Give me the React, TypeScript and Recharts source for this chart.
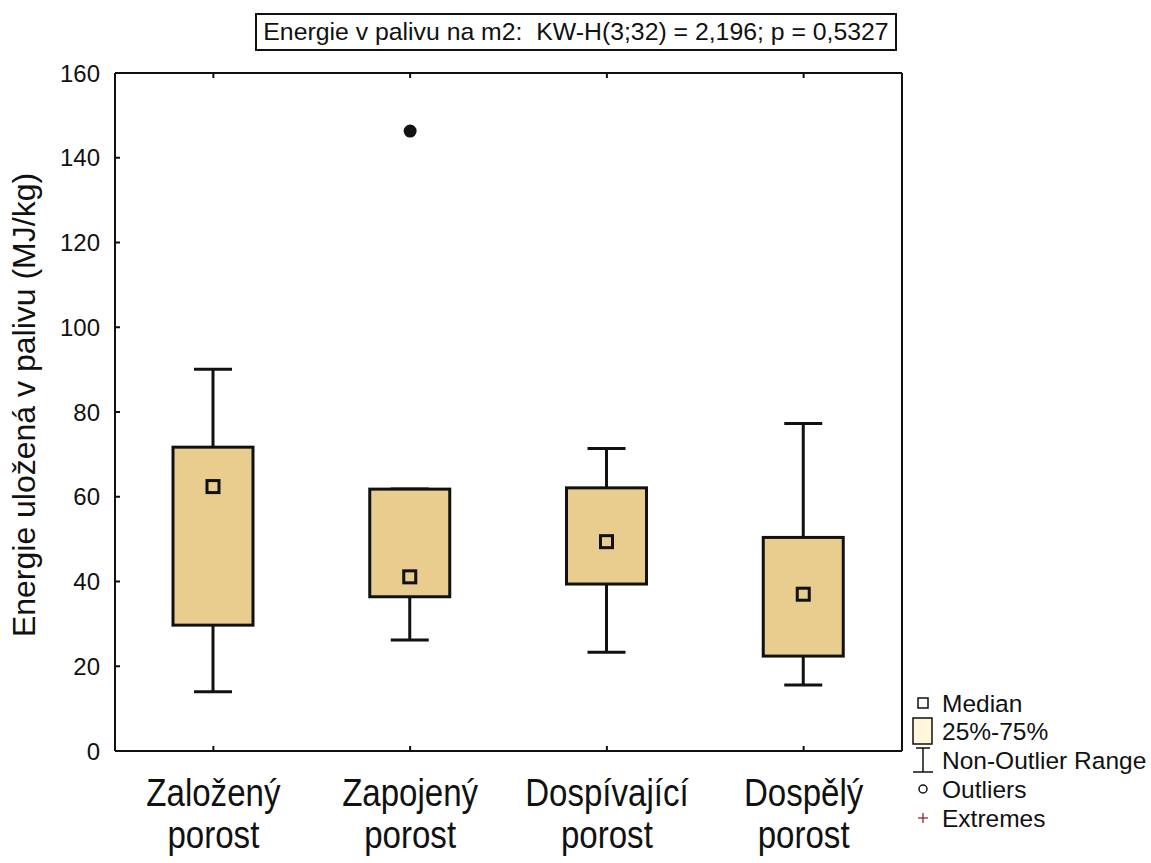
import {
  ComposedChart,
  Bar,
  Scatter,
  XAxis,
  YAxis,
} from "recharts";

const categories = ["Založený porost", "Zapojený porost", "Dospívající porost", "Dospělý porost"];
const whiskerLow = [14.0, 26.2, 23.3, 15.6];
const q1 = [29.7, 36.4, 39.4, 22.4];
const median = [62.4, 41.1, 49.4, 37.0];
const q3 = [71.7, 61.8, 62.1, 50.4];
const whiskerHigh = [90.1, 61.8, 71.4, 77.3];
const outliers: (number | null)[] = [null, 146.3, null, null];
const yTicks = [0, 20, 40, 60, 80, 100, 120, 140, 160];

const data = categories.map((name, i) => ({
  name,
  range: [whiskerLow[i], whiskerHigh[i]],
  q1: q1[i],
  median: median[i],
  q3: q3[i],
  outlier: outliers[i],
}));

const FONT = '"Liberation Sans", Arial, sans-serif';
const INK = "#111";
const BOX_FILL = "#e8cd8e";

function BoxShape(props: any) {
  const { x, y, width, height, payload } = props;
  const [lo, hi] = payload.range;
  const px = (v: number) => y + ((hi - v) / (hi - lo)) * height;
  const cx = x + width / 2;
  const cap = 19;
  const yq1 = px(payload.q1);
  const yq3 = px(payload.q3);
  const ym = px(payload.median);
  return (
    <g>
      <line x1={cx} x2={cx} y1={px(hi)} y2={yq3} stroke={INK} strokeWidth={3} />
      <line x1={cx} x2={cx} y1={yq1} y2={px(lo)} stroke={INK} strokeWidth={3} />
      <line x1={cx - cap} x2={cx + cap} y1={px(hi)} y2={px(hi)} stroke={INK} strokeWidth={3} />
      <line x1={cx - cap} x2={cx + cap} y1={px(lo)} y2={px(lo)} stroke={INK} strokeWidth={3} />
      <rect x={x} y={yq3} width={width} height={yq1 - yq3} fill={BOX_FILL} stroke={INK} strokeWidth={3} />
      <rect x={cx - 6} y={ym - 6} width={12} height={12} fill={BOX_FILL} stroke={INK} strokeWidth={3} />
    </g>
  );
}

function OutlierDot(props: any) {
  const { cx, cy, payload } = props;
  if (payload == null || payload.outlier == null || cy == null || isNaN(cy)) return null;
  return <circle cx={cx} cy={cy} r={6.5} fill={INK} />;
}

function LeftTick(props: any) {
  const { x, y, payload } = props;
  return (
    <g>
      <line x1={x} x2={x + 5} y1={y} y2={y} stroke={INK} strokeWidth={2} />
      <text x={x - 15} y={y} dy="0.36em" textAnchor="end" fontSize={24} fontFamily={FONT} fill={INK}>
        {payload.value}
      </text>
    </g>
  );
}

function RightTick(props: any) {
  const { x, y } = props;
  return <line x1={x} x2={x - 4} y1={y} y2={y} stroke={INK} strokeWidth={2} />;
}

function TopTick(props: any) {
  const { x, y } = props;
  return <line x1={x} x2={x} y1={y} y2={y + 5} stroke={INK} strokeWidth={2} />;
}

// category names are a bit condensed in the original, so squeeze them horizontally
function BottomTick(props: any) {
  const { x, y, payload } = props;
  const [first, ...rest] = String(payload.value).split(" ");
  return (
    <g>
      <line x1={x} x2={x} y1={y} y2={y - 5} stroke={INK} strokeWidth={2} />
      <g transform={`translate(${x}, ${y}) scale(0.87, 1)`}>
        <text textAnchor="middle" fontSize={38} fontFamily={FONT} fill={INK}>
          <tspan x={0} y={55}>{first}</tspan>
          <tspan x={0} y={97}>{rest.join(" ")}</tspan>
        </text>
      </g>
    </g>
  );
}

function YLabel() {
  return (
    <text
      transform="translate(35, 405) rotate(-90)"
      textAnchor="middle"
      fontSize={32}
      fontFamily={FONT}
      fill={INK}
    >
      Energie uložená v palivu (MJ/kg)
    </text>
  );
}

const legendRows = ["Median", "25%-75%", "Non-Outlier Range", "Outliers", "Extremes"];

function LegendBlock() {
  const rowY = [703, 731, 760, 789, 818];
  return (
    <svg width={246} height={160} style={{ position: "absolute", left: 905, top: 685 }}>
      <g transform="translate(-905, -685)" fontFamily={FONT} fontSize={24.5} fill={INK}>
        <rect x={918} y={rowY[0] - 5} width={10} height={10} fill="none" stroke={INK} strokeWidth={1.5} />
        <rect x={913} y={rowY[1] - 13} width={19} height={26} fill="#fff6dc" stroke={INK} strokeWidth={1.5} />
        <line x1={923} x2={923} y1={rowY[2] - 12} y2={rowY[2] + 12} stroke={INK} strokeWidth={1.5} />
        <line x1={916} x2={930} y1={rowY[2] - 12} y2={rowY[2] - 12} stroke={INK} strokeWidth={1.5} />
        <line x1={913} x2={933} y1={rowY[2] + 12} y2={rowY[2] + 12} stroke={INK} strokeWidth={1.5} />
        <circle cx={923} cy={rowY[3]} r={4} fill="none" stroke={INK} strokeWidth={1.5} />
        <g stroke="#7a1f2b" strokeWidth={1.2}>
          <line x1={918} x2={928} y1={rowY[4]} y2={rowY[4]} />
          <line x1={923} x2={923} y1={rowY[4] - 5} y2={rowY[4] + 5} />
        </g>
        {legendRows.map((label, i) => (
          <text key={label} x={942} y={rowY[i]} dy="0.36em">
            {label}
          </text>
        ))}
      </g>
    </svg>
  );
}

export default function App() {
  return (
    <div
      style={{
        position: "absolute",
        left: 0,
        top: 0,
        width: 1151,
        height: 863,
        background: "#fff",
        fontFamily: FONT,
      }}
    >
      <div
        style={{
          position: "absolute",
          left: 255,
          top: 13,
          width: 638,
          height: 34,
          border: `2px solid ${INK}`,
          fontSize: 24.8,
          lineHeight: "34px",
          textAlign: "center",
          color: INK,
          whiteSpace: "nowrap",
        }}
      >
        Energie v palivu na m2:&nbsp; KW-H(3;32) = 2,196; p = 0,5327
      </div>
      <ComposedChart
        width={1151}
        height={863}
        data={data}
        margin={{ top: 72, right: 248, bottom: 111, left: 114 }}
      >
        <XAxis
          dataKey="name"
          height={1}
          tickSize={0}
          tickMargin={0}
          tickLine={false}
          axisLine={{ stroke: INK, strokeWidth: 2 }}
          tick={<BottomTick />}
          interval={0}
        />
        <XAxis
          xAxisId="top"
          orientation="top"
          dataKey="name"
          height={1}
          tickSize={0}
          tickMargin={0}
          tickLine={false}
          axisLine={{ stroke: INK, strokeWidth: 2 }}
          tick={<TopTick />}
          interval={0}
        />
        <YAxis
          type="number"
          domain={[0, 160]}
          ticks={yTicks}
          width={1}
          tickSize={0}
          tickMargin={0}
          tickLine={false}
          axisLine={{ stroke: INK, strokeWidth: 2 }}
          tick={<LeftTick />}
          interval={0}
          label={<YLabel />}
        />
        <YAxis
          yAxisId="right"
          orientation="right"
          type="number"
          domain={[0, 160]}
          ticks={yTicks}
          width={1}
          tickSize={0}
          tickMargin={0}
          tickLine={false}
          axisLine={{ stroke: INK, strokeWidth: 2 }}
          tick={<RightTick />}
          interval={0}
        />
        <Bar dataKey="range" barSize={80} shape={<BoxShape />} isAnimationActive={false} />
        <Scatter dataKey="outlier" shape={<OutlierDot />} isAnimationActive={false} />
      </ComposedChart>
      <LegendBlock />
    </div>
  );
}
